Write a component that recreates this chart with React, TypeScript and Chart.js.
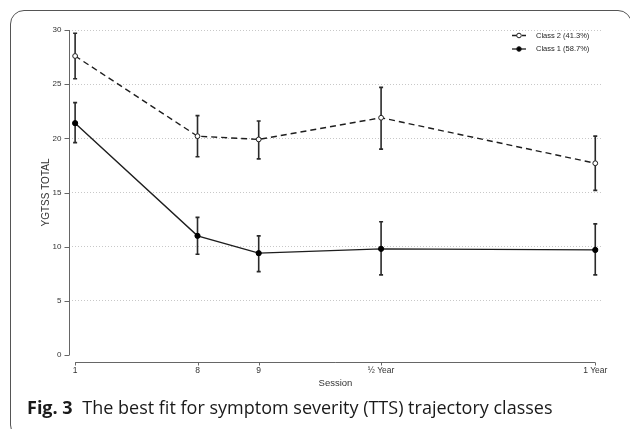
import React, { useEffect, useRef } from "react";
import { Chart, registerables } from "chart.js";

Chart.register(...registerables);

const sessionLabels = ["1", "8", "9", "½ Year", "1 Year"];
const sessionPos = [0, 2, 3, 5, 8.5];

const class2Label = "Class 2 (41.3%)";
const class2Mean = [27.6, 20.2, 19.9, 21.9, 17.7];
const class2Lower = [25.5, 18.3, 18.1, 19.0, 15.2];
const class2Upper = [29.7, 22.1, 21.6, 24.7, 20.2];

const class1Label = "Class 1 (58.7%)";
const class1Mean = [21.4, 11.0, 9.4, 9.8, 9.7];
const class1Lower = [19.6, 9.3, 7.7, 7.4, 7.4];
const class1Upper = [23.3, 12.7, 11.0, 12.3, 12.1];

const yTicks = [0, 5, 10, 15, 20, 25, 30];

const FONT = "'Liberation Sans', Arial, sans-serif";
const INK = "#1e1e1e";

const errorBars = [
  { lower: class2Lower, upper: class2Upper },
  { lower: class1Lower, upper: class1Upper },
];

const customPlugin = {
  id: "custom",
  beforeDatasetsDraw(chart: any) {
    const ctx = chart.ctx;
    const xs = chart.scales.x;
    const ys = chart.scales.y;
    ctx.save();
    ctx.strokeStyle = "#2a2a2a";
    ctx.lineWidth = 1.6;
    errorBars.forEach((eb) => {
      sessionPos.forEach((p, i) => {
        const x = xs.getPixelForValue(p);
        const yl = ys.getPixelForValue(eb.lower[i]);
        const yu = ys.getPixelForValue(eb.upper[i]);
        ctx.beginPath();
        ctx.moveTo(x, yl);
        ctx.lineTo(x, yu);
        ctx.moveTo(x - 2, yl);
        ctx.lineTo(x + 2, yl);
        ctx.moveTo(x - 2, yu);
        ctx.lineTo(x + 2, yu);
        ctx.stroke();
      });
    });
    ctx.restore();
  },
  afterDraw(chart: any) {
    const ctx = chart.ctx;
    const xs = chart.scales.x;
    const ys = chart.scales.y;
    const area = chart.chartArea;
    ctx.save();
    ctx.strokeStyle = "#666";
    ctx.lineWidth = 1;
    // y axis
    const ax = Math.round(area.left) + 0.5;
    ctx.beginPath();
    ctx.moveTo(ax, ys.getPixelForValue(yTicks[yTicks.length - 1]));
    ctx.lineTo(ax, ys.getPixelForValue(yTicks[0]));
    yTicks.forEach((t) => {
      const y = Math.round(ys.getPixelForValue(t)) + 0.5;
      ctx.moveTo(ax - 5, y);
      ctx.lineTo(ax, y);
    });
    ctx.stroke();
    // x axis
    const ay = Math.round(ys.getPixelForValue(0)) + 7.5;
    ctx.beginPath();
    ctx.moveTo(xs.getPixelForValue(sessionPos[0]), ay);
    ctx.lineTo(xs.getPixelForValue(sessionPos[sessionPos.length - 1]), ay);
    sessionPos.forEach((p) => {
      const x = Math.round(xs.getPixelForValue(p)) + 0.5;
      ctx.moveTo(x, ay);
      ctx.lineTo(x, ay + 3);
    });
    ctx.stroke();

    // legend
    const lx = area.right - 90;
    const tx = area.right - 66;
    chart.data.datasets.forEach((ds: any, i: number) => {
      const y = area.top + 5.5 + i * 13.5;
      ctx.strokeStyle = INK;
      ctx.lineWidth = 1.3;
      ctx.setLineDash(ds.borderDash || []);
      ctx.beginPath();
      ctx.moveTo(lx, y);
      ctx.lineTo(lx + 14, y);
      ctx.stroke();
      ctx.setLineDash([]);
      ctx.beginPath();
      ctx.arc(lx + 7, y, 2.3, 0, Math.PI * 2);
      ctx.fillStyle = ds.pointBackgroundColor;
      ctx.fill();
      ctx.lineWidth = 1;
      ctx.stroke();
      ctx.fillStyle = INK;
      ctx.font = `7.5px ${FONT}`;
      ctx.textAlign = "left";
      ctx.textBaseline = "middle";
      ctx.fillText(ds.label, tx, y);
    });
    ctx.restore();
  },
};

function ChartView() {
  const ref = useRef<HTMLCanvasElement | null>(null);
  useEffect(() => {
    if (!ref.current) return;
    const chart = new Chart(ref.current, {
      type: "line",
      data: {
        datasets: [
          {
            label: class2Label,
            data: sessionPos.map((p, i) => ({ x: p, y: class2Mean[i] })),
            borderColor: INK,
            borderWidth: 1.4,
            borderDash: [6, 4],
            pointRadius: 2.4,
            pointBackgroundColor: "#fff",
            pointBorderColor: INK,
            pointBorderWidth: 1,
            tension: 0,
            fill: false,
          },
          {
            label: class1Label,
            data: sessionPos.map((p, i) => ({ x: p, y: class1Mean[i] })),
            borderColor: INK,
            borderWidth: 1.4,
            pointRadius: 2.6,
            pointBackgroundColor: "#000",
            pointBorderColor: "#000",
            pointBorderWidth: 1,
            tension: 0,
            fill: false,
          },
        ],
      },
      options: {
        animation: false,
        responsive: false,
        devicePixelRatio: 1,
        layout: { padding: { left: 0, right: 28, top: 30, bottom: 34 } },
        plugins: { legend: { display: false }, tooltip: { enabled: false } },
        scales: {
          x: {
            type: "linear",
            min: -0.1,
            max: 8.61,
            afterBuildTicks: (scale: any) => {
              scale.ticks = sessionPos.map((v) => ({ value: v }));
            },
            afterFit: (scale: any) => {
              scale.height = 40;
            },
            grid: { display: false, drawTicks: false },
            border: { display: false },
            ticks: {
              autoSkip: false,
              maxRotation: 0,
              padding: 11,
              color: "#333",
              font: { family: FONT, size: 8.5 },
              callback: (v: any) => {
                const idx = sessionPos.indexOf(Number(v));
                return idx >= 0 ? sessionLabels[idx] : "";
              },
            },
            title: {
              display: true,
              text: "Session",
              color: "#333",
              font: { family: FONT, size: 9.5 },
              padding: { top: 0, bottom: 6 },
            },
          },
          y: {
            min: 0,
            max: 30,
            afterBuildTicks: (scale: any) => {
              scale.ticks = yTicks.map((v) => ({ value: v }));
            },
            afterFit: (scale: any) => {
              scale.width = 69;
            },
            grid: {
              drawTicks: false,
              lineWidth: 1,
              color: (c: any) => (c.tick && c.tick.value === 0 ? "rgba(0,0,0,0)" : "#c8c8c8"),
            },
            border: { display: false, dash: [1, 2] },
            ticks: {
              padding: 7.5,
              color: "#333",
              font: { family: FONT, size: 8 },
            },
            title: {
              display: true,
              text: "YGTSS TOTAL",
              color: "#333",
              font: { family: FONT, size: 10 },
              padding: { top: 40, bottom: 0 },
            },
          },
        },
      },
      plugins: [customPlugin],
    } as any);
    return () => chart.destroy();
  }, []);
  return <canvas ref={ref} width={630} height={429} style={{ position: "absolute", left: 0, top: 0 }} />;
}

export default function App() {
  return (
    <div
      style={{
        position: "absolute",
        left: 0,
        top: 0,
        width: 630,
        height: 429,
        overflow: "hidden",
        background: "#fff",
      }}
    >
      <div
        style={{
          position: "absolute",
          left: 10,
          top: 10,
          width: 622,
          height: 429,
          border: "1.5px solid #555",
          borderRadius: 14,
          boxSizing: "border-box",
        }}
      />
      <ChartView />
      <div
        style={{
          position: "absolute",
          left: 27,
          top: 397,
          fontFamily: "'Open Sans', sans-serif",
          fontSize: 18,
          lineHeight: "20px",
          color: "#1a1a1a",
          whiteSpace: "nowrap",
        }}
      >
        <b>Fig. 3</b>
        {" "}
        <span style={{ marginLeft: 5 }}>The best fit for symptom severity (TTS) trajectory classes</span>
      </div>
    </div>
  );
}
